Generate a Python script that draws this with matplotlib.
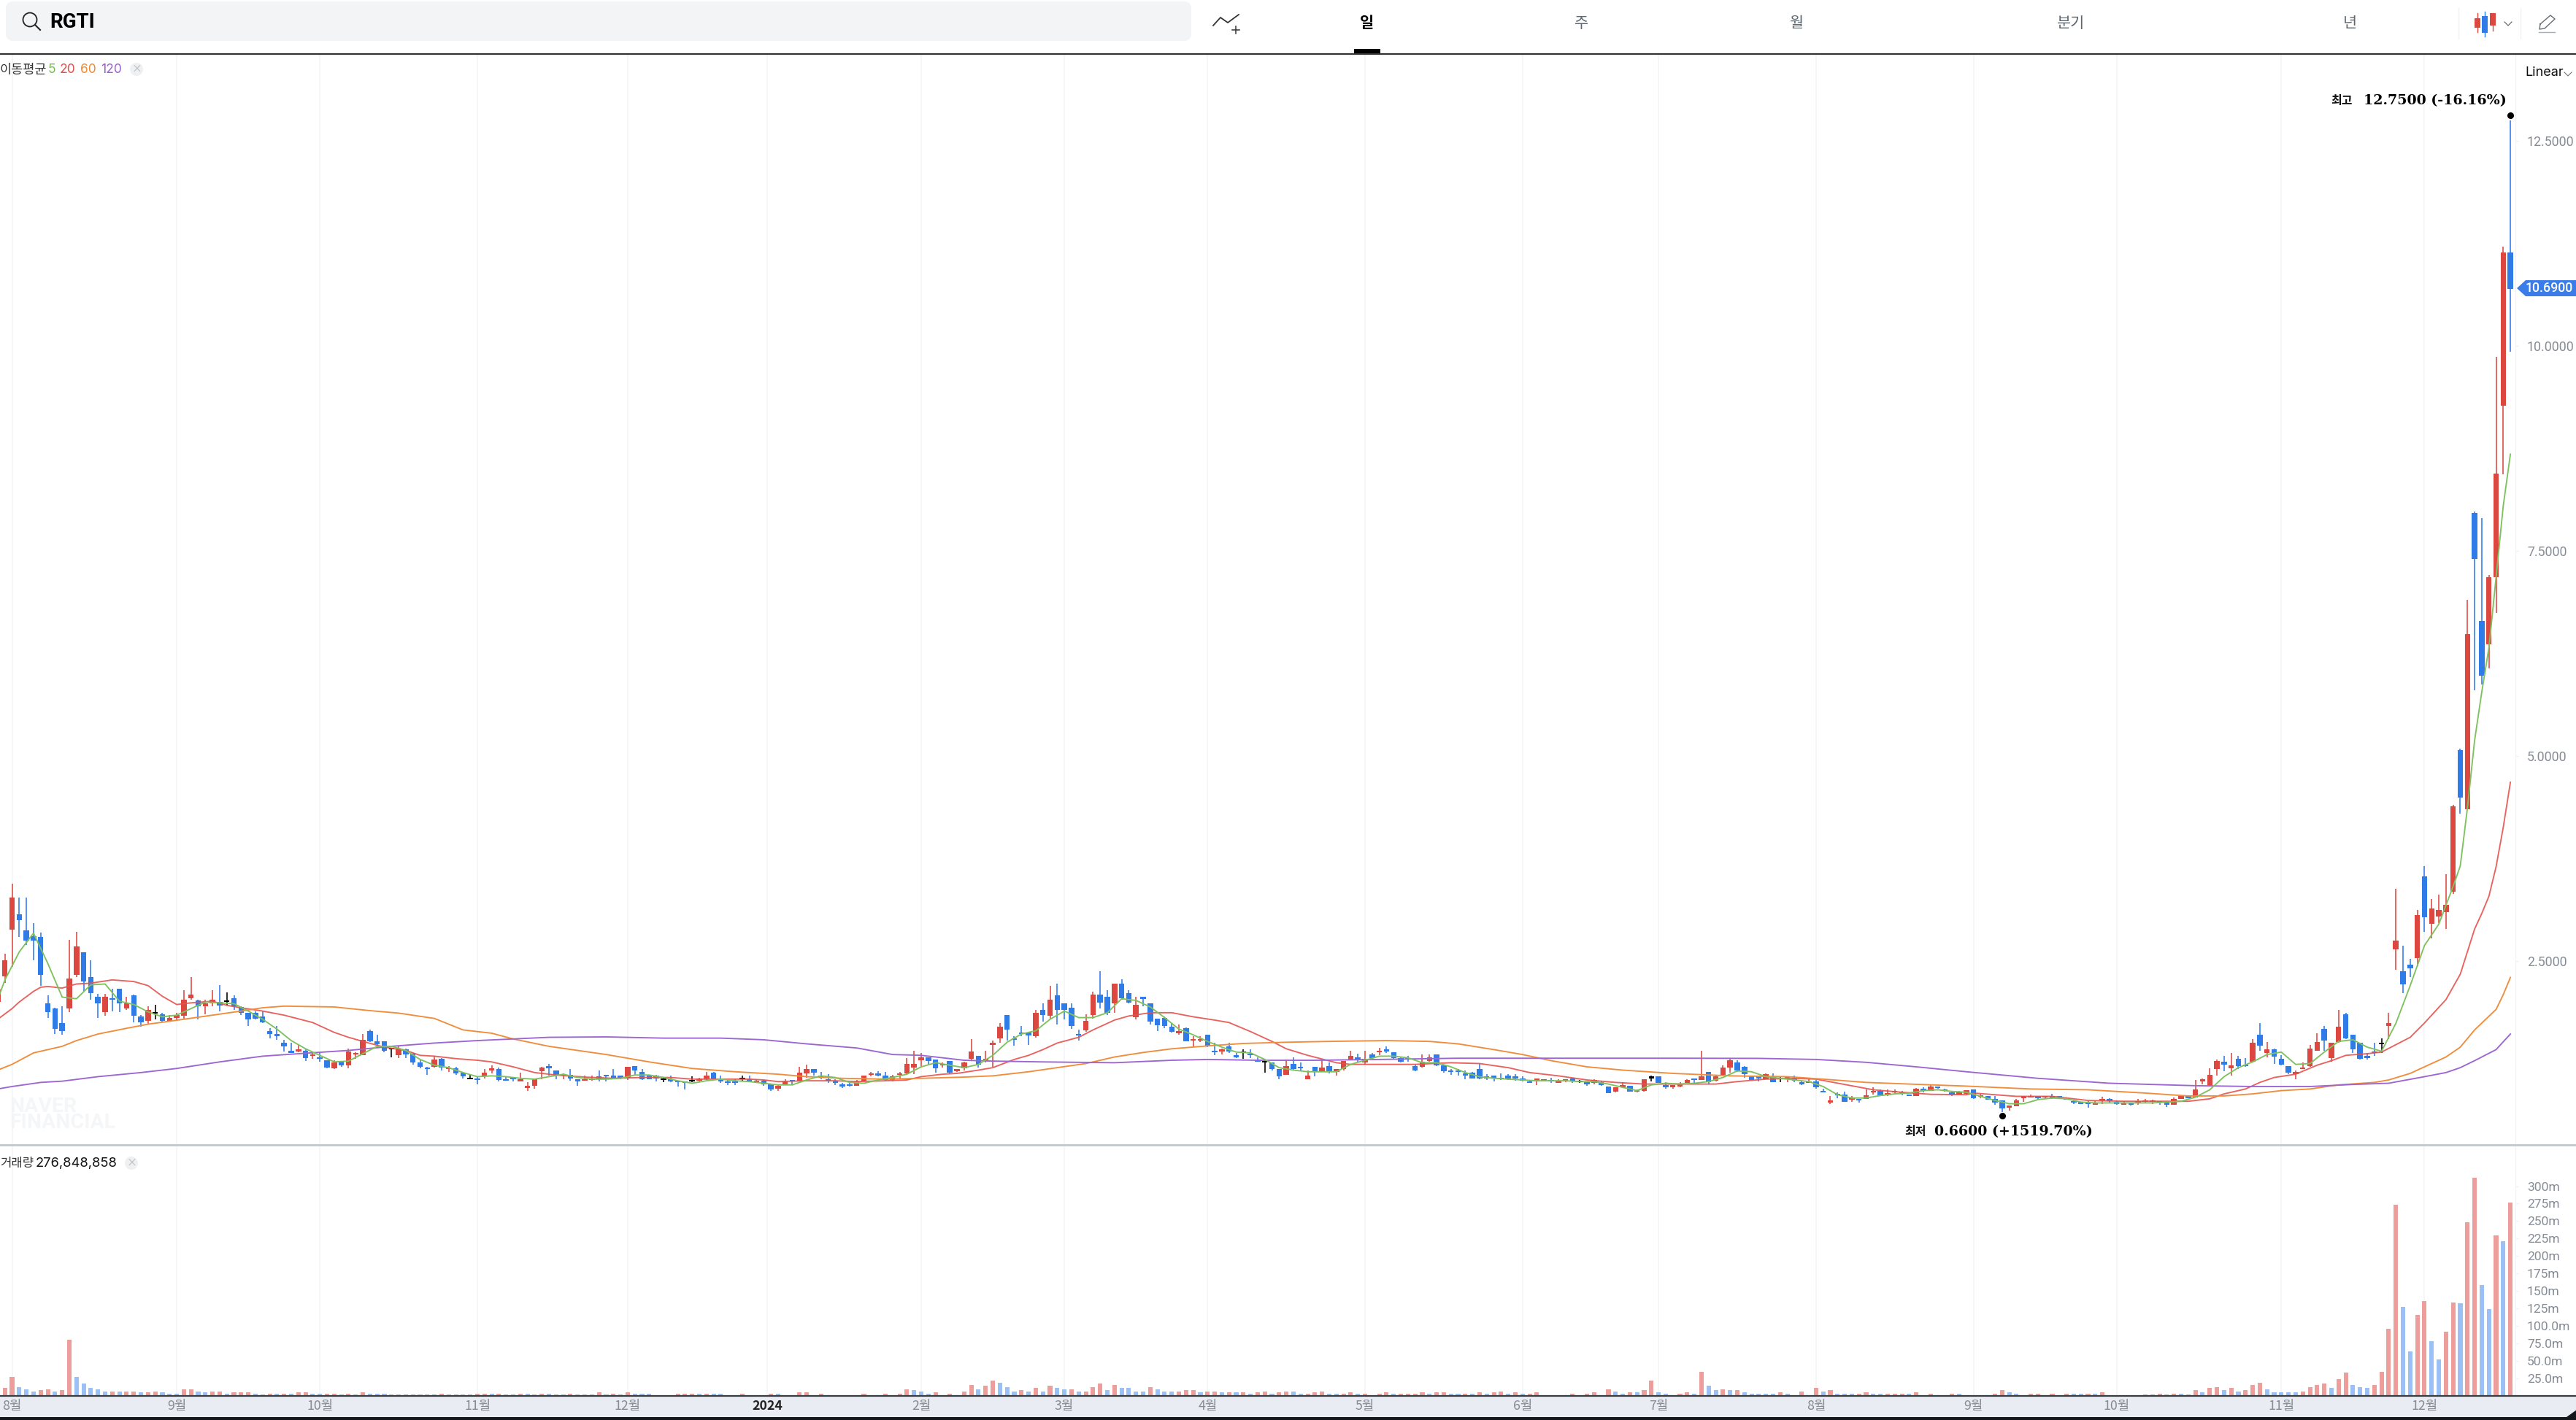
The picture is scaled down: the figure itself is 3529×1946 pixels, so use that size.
import matplotlib
matplotlib.use("Agg")
import matplotlib.pyplot as plt
from matplotlib.patches import Circle, FancyBboxPatch, Polygon, Rectangle
from matplotlib.transforms import offset_copy

KR = ["Noto Sans CJK KR", "DejaVu Sans"]
plt.rcParams["font.family"] = KR

# daily candles, index 0 is the one cut off by the left edge
opens = [2.0,2.31,2.88,3.07,2.87,2.80,2.79,1.98,1.92,1.74,
    1.92,2.33,2.61,2.30,2.06,1.88,2.05,2.16,1.92,2.08,
    1.82,1.77,1.86,1.85,1.76,1.81,1.83,2.05,2.02,1.95,
    1.98,2.0,2.0,2.05,1.94,1.87,1.87,1.82,1.65,1.61,
    1.50,1.41,1.40,1.41,1.34,1.32,1.29,1.19,1.27,1.23,
    1.36,1.35,1.65,1.52,1.52,1.42,1.35,1.42,1.37,1.26,
    1.19,1.21,1.31,1.18,1.19,1.14,1.06,1.06,1.09,1.17,
    1.18,1.05,1.07,1.03,0.95,0.98,1.16,1.22,1.17,1.10,
    1.11,1.06,1.04,1.05,1.08,1.10,1.10,1.09,1.08,1.22,
    1.15,1.10,1.10,1.05,1.06,1.03,1.02,1.03,1.04,1.07,
    1.14,1.05,1.02,1.02,1.06,1.06,1.01,1.04,1.0,0.94,
    0.99,1.04,1.03,1.13,1.18,1.09,1.06,1.02,1.0,0.99,
    0.98,1.03,1.11,1.13,1.10,1.05,1.11,1.13,1.20,1.29,
    1.33,1.30,1.23,1.28,1.16,1.19,1.31,1.34,1.29,1.48,
    1.56,1.84,1.55,1.63,1.63,1.58,1.90,1.83,2.08,1.98,
    1.93,1.61,1.655,1.84,2.09,2.06,1.98,2.22,2.11,1.815,
    2.05,1.98,1.80,1.81,1.70,1.62,1.68,1.53,1.53,1.60,
    1.40,1.40,1.46,1.34,1.38,1.36,1.30,1.26,1.26,1.18,
    1.11,1.25,1.20,1.06,1.21,1.15,1.22,1.15,1.18,1.30,
    1.33,1.26,1.36,1.39,1.42,1.39,1.32,1.31,1.22,1.21,
    1.28,1.36,1.23,1.155,1.155,1.13,1.14,1.18,1.08,1.09,
    1.07,1.10,1.075,1.07,1.02,1.03,1.04,1.04,1.01,1.04,
    1.07,1.02,1.02,1.01,1.02,0.97,0.91,0.965,0.98,0.905,
    0.92,1.07,1.09,0.99,0.965,0.97,1.01,1.06,1.05,1.15,
    1.04,1.11,1.20,1.26,1.21,1.10,1.075,1.06,1.09,1.06,
    1.065,1.07,1.025,1.01,1.03,0.90,0.77,0.865,0.875,0.81,
    0.81,0.82,0.895,0.92,0.86,0.895,0.90,0.86,0.85,0.94,
    0.915,0.955,0.935,0.90,0.87,0.885,0.93,0.845,0.85,0.82,
    0.80,0.715,0.73,0.83,0.835,0.835,0.835,0.855,0.855,0.83,
    0.795,0.765,0.765,0.75,0.80,0.80,0.785,0.75,0.755,0.775,
    0.785,0.785,0.775,0.77,0.745,0.82,0.85,0.835,1.035,0.97,
    1.18,1.275,1.195,1.305,1.22,1.275,1.605,1.38,1.42,1.305,
    1.22,1.125,1.18,1.22,1.41,1.675,1.315,1.515,1.85,1.605,
    1.50,1.34,1.38,1.485,1.705,2.64,2.38,2.46,2.54,3.53,
    2.95,3.045,3.095,3.345,5.07,4.355,7.96,6.65,6.36,7.18,
    9.27,11.14]
highs = [2.22,2.59,3.44,3.27,3.27,2.96,2.85,2.08,1.93,1.95,
    2.76,2.86,2.61,2.51,2.10,2.10,2.16,2.16,2.06,2.09,
    1.84,1.95,1.97,1.87,1.84,1.87,2.14,2.30,2.03,2.03,
    2.14,2.21,2.12,2.08,1.95,1.87,1.89,1.89,1.68,1.71,
    1.54,1.50,1.48,1.42,1.38,1.38,1.29,1.29,1.28,1.43,
    1.39,1.61,1.66,1.60,1.52,1.43,1.46,1.43,1.38,1.29,
    1.21,1.34,1.32,1.22,1.21,1.15,1.11,1.09,1.18,1.23,
    1.20,1.09,1.07,1.14,1.02,1.06,1.21,1.25,1.17,1.13,
    1.18,1.06,1.10,1.10,1.17,1.10,1.18,1.10,1.21,1.22,
    1.18,1.10,1.11,1.08,1.10,1.04,1.02,1.09,1.08,1.15,
    1.15,1.10,1.06,1.06,1.10,1.10,1.06,1.05,1.0,0.99,
    1.06,1.05,1.21,1.24,1.18,1.15,1.12,1.06,1.01,1.01,
    1.05,1.10,1.15,1.16,1.15,1.11,1.15,1.32,1.41,1.38,
    1.33,1.30,1.26,1.28,1.18,1.27,1.55,1.34,1.41,1.53,
    1.74,1.84,1.58,1.71,1.64,1.90,1.98,2.20,2.22,1.98,
    1.98,1.66,1.85,2.13,2.38,2.14,2.22,2.28,2.14,2.06,
    2.06,1.98,1.80,1.82,1.74,1.73,1.69,1.58,1.58,1.60,
    1.50,1.43,1.50,1.38,1.42,1.42,1.33,1.30,1.26,1.18,
    1.30,1.33,1.26,1.17,1.21,1.29,1.26,1.18,1.28,1.41,
    1.37,1.41,1.38,1.44,1.46,1.39,1.33,1.34,1.24,1.36,
    1.36,1.36,1.23,1.18,1.18,1.17,1.15,1.25,1.12,1.10,
    1.13,1.12,1.12,1.09,1.04,1.07,1.06,1.08,1.06,1.06,
    1.08,1.05,1.02,1.06,1.04,0.97,0.96,1.02,0.98,0.93,
    1.06,1.10,1.09,1.02,0.98,1.02,1.06,1.06,1.41,1.15,
    1.10,1.23,1.31,1.29,1.22,1.10,1.09,1.13,1.13,1.09,
    1.09,1.10,1.03,1.07,1.05,0.945,0.85,0.90,0.905,0.855,
    0.82,0.93,0.96,0.93,0.93,0.93,0.92,0.87,0.95,0.96,
    0.99,0.97,0.94,0.915,0.92,0.925,0.935,0.88,0.855,0.855,
    0.80,0.74,0.82,0.855,0.875,0.85,0.855,0.885,0.855,0.835,
    0.80,0.78,0.795,0.79,0.845,0.825,0.80,0.79,0.775,0.82,
    0.82,0.81,0.795,0.795,0.835,0.855,0.855,1.05,1.07,1.195,
    1.30,1.345,1.38,1.345,1.315,1.545,1.74,1.515,1.435,1.355,
    1.22,1.165,1.26,1.475,1.62,1.705,1.50,1.90,1.865,1.605,
    1.50,1.38,1.50,1.56,1.865,3.385,2.69,2.53,3.12,3.66,
    3.26,3.31,3.56,4.40,5.09,6.90,7.98,7.90,7.21,9.87,
    11.21,12.75]
lows = [1.93,2.23,2.43,2.79,2.70,2.51,2.20,1.81,1.61,1.60,
    1.88,2.30,2.13,2.03,1.81,1.83,1.89,1.88,1.90,1.75,
    1.70,1.73,1.79,1.76,1.76,1.78,1.79,2.03,1.79,1.85,
    1.95,1.89,1.96,1.90,1.84,1.71,1.79,1.74,1.56,1.54,
    1.40,1.38,1.39,1.28,1.31,1.27,1.19,1.18,1.21,1.19,
    1.31,1.35,1.51,1.45,1.39,1.33,1.32,1.32,1.24,1.19,
    1.11,1.20,1.17,1.15,1.11,1.07,1.06,1.0,1.07,1.13,
    1.03,1.04,1.03,1.03,0.92,0.94,1.06,1.10,1.06,1.06,
    1.04,0.98,1.04,1.04,1.03,1.03,1.06,1.06,1.05,1.10,
    1.05,1.06,1.03,1.02,1.02,0.97,0.93,1.02,1.03,1.05,
    1.06,1.01,0.99,0.99,1.03,1.03,1.01,0.98,0.92,0.92,
    0.99,0.99,1.03,1.08,1.10,1.06,1.01,0.99,0.95,0.97,
    0.98,1.03,1.09,1.09,1.04,1.03,1.06,1.11,1.12,1.20,
    1.24,1.14,1.20,1.12,1.15,1.17,1.29,1.20,1.26,1.21,
    1.50,1.53,1.47,1.58,1.48,1.57,1.76,1.79,1.73,1.79,
    1.67,1.53,1.64,1.80,1.92,1.84,1.87,2.03,1.98,1.79,
    1.95,1.73,1.65,1.68,1.63,1.60,1.52,1.45,1.51,1.45,
    1.35,1.36,1.38,1.32,1.31,1.32,1.27,1.14,1.17,1.06,
    1.11,1.17,1.17,1.06,1.09,1.15,1.13,1.10,1.17,1.30,
    1.27,1.24,1.31,1.35,1.38,1.30,1.26,1.27,1.16,1.20,
    1.27,1.22,1.14,1.115,1.10,1.06,1.07,1.06,1.05,1.03,
    1.05,1.05,1.04,1.03,1.01,0.99,1.03,1.01,1.01,1.02,
    1.01,1.01,0.98,1.0,0.98,0.89,0.90,0.96,0.91,0.90,
    0.91,1.03,1.01,0.94,0.945,0.96,1.01,1.01,1.05,0.995,
    1.03,1.10,1.14,1.15,1.08,1.05,1.03,1.055,1.025,1.025,
    1.025,1.025,0.99,1.01,0.945,0.895,0.76,0.83,0.78,0.78,
    0.77,0.82,0.875,0.85,0.85,0.885,0.865,0.85,0.85,0.90,
    0.915,0.94,0.91,0.85,0.87,0.875,0.82,0.83,0.81,0.745,
    0.66,0.68,0.73,0.78,0.835,0.81,0.825,0.82,0.83,0.81,
    0.76,0.755,0.715,0.745,0.755,0.775,0.75,0.745,0.74,0.745,
    0.765,0.76,0.75,0.725,0.745,0.82,0.825,0.835,1.0,0.97,
    1.10,1.16,1.10,1.18,1.21,1.265,1.41,1.33,1.25,1.225,
    1.125,1.06,1.18,1.21,1.41,1.41,1.275,1.50,1.55,1.38,
    1.295,1.30,1.34,1.38,1.545,2.39,2.11,2.305,2.435,2.86,
    2.78,2.96,2.89,3.32,4.30,4.355,5.80,5.87,6.07,6.74,
    8.43,9.93]
closes = [2.15,2.51,3.27,3.0,2.75,2.75,2.33,1.88,1.67,1.65,
    2.29,2.68,2.25,2.11,1.98,2.06,2.03,1.98,1.98,1.83,
    1.75,1.90,1.86,1.77,1.81,1.84,2.03,2.09,1.95,1.98,
    2.03,1.96,2.0,1.95,1.87,1.79,1.80,1.75,1.61,1.58,
    1.46,1.38,1.42,1.32,1.35,1.31,1.20,1.26,1.23,1.40,
    1.37,1.54,1.52,1.49,1.41,1.42,1.43,1.36,1.26,1.21,
    1.18,1.30,1.20,1.19,1.13,1.09,1.06,1.05,1.14,1.18,
    1.05,1.04,1.06,1.06,0.98,1.06,1.20,1.19,1.10,1.12,
    1.07,1.03,1.06,1.07,1.07,1.09,1.06,1.08,1.21,1.17,
    1.06,1.06,1.07,1.05,1.03,1.02,1.01,1.03,1.07,1.10,
    1.06,1.03,1.01,1.01,1.06,1.03,1.04,1.0,0.93,0.98,
    1.03,1.03,1.14,1.18,1.14,1.08,1.03,1.01,0.97,0.98,
    1.03,1.10,1.12,1.10,1.05,1.09,1.12,1.25,1.25,1.33,
    1.28,1.19,1.25,1.14,1.17,1.26,1.40,1.24,1.30,1.50,
    1.70,1.66,1.54,1.61,1.59,1.87,1.84,2.03,1.90,1.90,
    1.71,1.59,1.77,2.09,1.99,1.87,2.22,2.05,1.99,1.97,
    2.04,1.76,1.72,1.71,1.64,1.65,1.52,1.54,1.54,1.47,
    1.39,1.41,1.40,1.33,1.38,1.35,1.27,1.26,1.18,1.09,
    1.22,1.18,1.19,1.10,1.15,1.20,1.15,1.18,1.28,1.34,
    1.30,1.31,1.32,1.41,1.40,1.32,1.27,1.30,1.17,1.27,
    1.33,1.23,1.16,1.15,1.15,1.10,1.07,1.07,1.07,1.08,
    1.06,1.07,1.07,1.04,1.015,1.07,1.06,1.03,1.04,1.05,
    1.03,1.02,1.0,1.05,0.99,0.89,0.96,0.97,0.91,0.92,
    1.06,1.07,1.01,0.96,0.97,1.0,1.05,1.05,1.09,1.02,
    1.09,1.20,1.29,1.17,1.12,1.05,1.07,1.12,1.025,1.06,
    1.07,1.04,0.995,1.03,0.96,0.895,0.805,0.86,0.78,0.835,
    0.80,0.86,0.90,0.85,0.89,0.90,0.88,0.855,0.94,0.915,
    0.97,0.95,0.915,0.865,0.895,0.925,0.83,0.85,0.81,0.77,
    0.70,0.74,0.80,0.835,0.855,0.83,0.85,0.83,0.835,0.81,
    0.77,0.76,0.76,0.77,0.82,0.795,0.755,0.76,0.75,0.78,
    0.79,0.79,0.77,0.75,0.82,0.85,0.83,0.93,1.04,1.115,
    1.285,1.235,1.225,1.215,1.215,1.50,1.47,1.42,1.335,1.235,
    1.135,1.13,1.205,1.435,1.515,1.53,1.50,1.70,1.56,1.425,
    1.305,1.315,1.375,1.485,1.74,2.75,2.215,2.41,3.065,3.03,
    3.145,3.12,3.185,4.385,4.49,6.49,7.40,5.98,7.18,8.445,
    11.14,10.69]

# volume in millions
volumes = [3,11,26.5,12.5,9,6,8,9,6,8,
    80,26.5,17,11,9,6,6,6,6,6,
    5,5,6,5,3,3,9,9,6,5,
    6,6,3,5,5,5,3,2,3,3,
    3,3,5,5,3,3,3,3,2,3,
    2,5,3,3,3,2,2,2,2,2,
    2,2,3,1.5,1.5,1.5,1.5,3,3,3,
    3,1.5,1.5,3,3,1.5,3,3,1.5,1.5,
    3,1.5,1.5,1.5,5,1.5,3,1.5,5,3,
    2.4,2.4,1,1,1,2.4,2.4,2.4,2.4,2.4,
    2.4,2.4,1,1,2.4,1,1,1,2.4,2.4,
    1,1,4.2,4.2,1,2.4,1,1,1,1,
    1,2.4,1,1,2.4,1,2.4,9.1,7.7,5.9,
    2.4,4.2,1,2.4,1,5.9,15.3,9.1,13.9,21.6,
    18.5,12.2,5.9,7.7,5.9,10.8,5.9,13.9,10.8,9.1,
    9.1,5.9,5.9,12.2,17.1,7.7,15.3,10.8,10.8,5.9,
    5.9,12.2,9.1,5.9,5.9,5.9,7.7,7.7,4.2,5.9,
    5.9,4.2,4.2,4.2,4.2,2.4,4.2,5.9,2.4,4.2,
    5.9,5.9,2.4,2.4,4.2,5.9,2.4,2.4,2.4,4.2,
    2.4,2.4,1,2.4,4.2,2.4,2.4,2.4,2.4,4.2,
    2.4,4.2,4.2,2.4,2.4,2.4,2.4,4.2,2.4,4.2,
    5.9,2.4,4.2,2.4,2.4,4.2,1,1,1,1,
    2.4,1,2.4,4.2,1,9.1,5.9,2.4,4.2,4.2,
    7.7,21.6,4.2,2.4,1,2.4,4.2,2.4,34.2,13.9,
    7.7,9.1,7.7,7.7,4.2,2.4,2.4,2.4,2.4,4.2,
    2.4,1,5.9,1,10.8,5.9,7.7,2.4,2.4,2.4,
    2.4,4.2,2.4,2.4,2.4,2.4,2.4,2.4,4.2,1,
    2.4,1,1,2.4,2.4,1,1,1,1,2.4,
    7.7,4.2,2.4,1,2.4,2.4,1,2.4,1,2.4,
    2.4,2.4,2.4,2.4,4.2,1,1,1,1,1,
    1.5,1.5,3,2,3,3,2,8,5,11,
    12.5,8,11,6,8,15,18.5,9,5,5,
    5,5,6,12.5,15,17,11,24,33,15,
    12.5,11,15,34,96,273,127,63,116,135,
    78,52,91,133,132,248,312,158,124,229,
    221,276]
volume_dir = ("RRRBBBRRBR" "RBBBBBRBRR" "BRRBBBRRBB" "RRBRRRBBRB" "RBRRBBRRBR" "BRBBBBBRRB"
    "RRRBBBBRRB" "RBRRBBRBBB" "RBBBRBRBRB" "BBBRRRRRBR" "BBBBRBBRRB" "BBRRBRBBBB"
    "RRBBRBRRBB" "BRBRBRRBRR" "BBBRBRBRBB" "RBRRRBRBBB" "BRBBBRRRBR" "RBRBRBRRBR"
    "RBBRRRBBRR" "BRBRRBRRRR" "BRRBBRBRBR" "RBRBRRBRRB" "RBRRBRBBRB" "RRBBBRRBRB"
    "BRBRBBBBBR" "BBRBRBRBBB" "RRBBRRRBRB" "RBRRBBBBRR" "RBBBRRBRBR" "BBRBRBBBBR"
    "BRRBRBBRBR" "RBRBRRRBBB" "BBRRRRBRRB" "BBRRRRBBRR" "BBRRBRRBBR" "BR")

# moving averages at the listed candle indexes
ma5_k = [0] + list(range(1, 343, 2)) + [343, 344, 345, 346, 347, 348, 349, 350, 351]
ma5_v = [2.03,2.27,2.61,2.84,2.47,2.06,2.04,2.21,2.22,2.01,1.97,1.88,1.82,1.84,1.92,2.0,1.99,1.98,1.89,1.79,
    1.67,1.53,1.43,1.35,1.27,1.28,1.37,1.46,1.46,1.41,1.30,1.23,1.20,1.14,1.09,1.10,1.09,
    1.07,1.06,1.09,1.12,1.08,1.06,1.06,1.07,1.11,1.11,1.08,1.04,1.01,1.04,1.06,1.04,1.03,1.01,0.99,0.99,
    1.05,1.10,1.08,1.02,1.01,1.05,1.08,1.12,1.21,1.26,1.23,1.20,1.24,1.35,1.51,
    1.61,1.65,1.79,1.89,1.81,1.81,1.87,2.04,2.02,1.94,1.81,1.67,1.60,1.52,1.45,1.39,1.38,1.30,1.20,1.17,
    1.15,1.15,1.15,1.24,1.29,1.34,1.34,1.32,1.26,
    1.26,1.21,1.14,1.09,1.07,1.06,1.05,1.04,1.04,1.04,1.03,1.03,1.0,0.96,0.92,0.99,1.01,1.0,1.01,1.03,
    1.08,1.16,1.15,1.09,1.07,1.05,1.03,0.97,0.87,0.83,0.83,0.86,0.88,0.89,0.92,0.93,0.91,0.90,
    0.85,0.80,0.76,0.76,0.81,0.83,0.82,0.78,0.77,0.77,0.77,0.77,0.77,0.78,0.79,0.84,0.93,1.09,1.20,1.27,
    1.36,1.39,1.24,1.25,1.39,1.52,1.54,1.45,1.40,1.74,2.20,2.69,2.95,
    3.41,3.66,4.37,5.19,5.78,6.32,7.18,8.05,8.68]
ma20_k = [0,2,3,5,6,7,9,11,13,16,19,21,23,25,27,30,32,34,37,40,44,47,49,51,54,57,59,61,64,67,69,72,
    75,78,82,86,90,94,97,101,105,107,109,113,117,120,124,127,129,132,134,137,139,142,
    144,146,148,151,153,156,158,161,164,167,170,172,175,178,180,183,187,189,192,195,198,
    203,207,211,214,218,222,226,230,234,240,243,247,251,254,258,262,266,270,275,
    276,282,287,292,297,302,306,309,311,314,316,318,321,324,326,328,331,333,335,337,339,342,344,346,347,348,349,350,351]
ma20_v = [1.79,1.92,2.0,2.13,2.18,2.19,2.17,2.22,2.23,2.27,2.25,2.20,2.07,1.97,1.99,2.01,1.96,1.93,1.89,1.84,
    1.75,1.63,1.57,1.52,1.45,1.41,1.35,1.34,1.31,1.29,1.27,1.21,
    1.14,1.11,1.085,1.07,1.08,1.08,1.06,1.06,1.06,1.05,1.03,1.04,1.04,1.03,1.04,1.05,1.09,1.12,1.13,1.17,1.20,1.30,
    1.35,1.42,1.50,1.57,1.66,1.78,1.83,1.87,1.87,1.82,1.78,1.75,1.64,1.52,1.43,1.35,1.26,1.24,1.24,1.24,1.24,
    1.26,1.25,1.20,1.14,1.10,1.05,1.02,1.0,1.0,1.0,1.03,1.06,1.07,1.06,0.995,0.93,0.90,0.875,0.87,
    0.89,0.85,0.85,0.80,0.79,0.79,0.79,0.82,0.88,0.94,1.02,1.08,1.12,1.23,1.285,1.35,1.37,1.39,1.48,1.57,1.745,2.03,
    2.34,2.89,3.08,3.29,3.65,4.13,4.68]
ma60_k = [0,2,5,9,11,14,18,21,26,30,34,37,40,47,52,56,61,65,69,72,
    77,85,91,97,103,109,113,118,124,129,135,139,144,148,152,156,160,164,169,174,180,186,194,
    200,204,209,213,217,222,227,234,242,250,255,261,267,275,
    284,292,300,306,311,315,319,323,327,332,334,337,342,344,346,349,350,351]
ma60_v = [1.17,1.24,1.38,1.46,1.53,1.61,1.68,1.73,1.79,1.84,1.89,1.93,1.95,1.94,1.895,1.865,1.80,1.66,1.62,1.55,
    1.46,1.36,1.27,1.19,1.15,1.12,1.09,1.07,1.06,1.07,1.085,1.10,1.15,1.20,1.25,1.33,1.385,1.43,1.465,1.495,1.51,1.52,1.53,
    1.52,1.49,1.42,1.36,1.285,1.21,1.17,1.13,1.10,1.09,1.06,1.02,1.0,0.975,
    0.94,0.93,0.89,0.855,0.855,0.88,0.92,0.94,0.99,1.02,1.05,1.13,1.33,1.45,1.66,1.91,2.09,2.30]
ma120_k = [0,2,6,9,14,20,25,31,37,43,49,55,61,67,72,77,85,93,101,107,113,120,125,129,135,139,146,156,164,169,176,184,193,
    204,217,234,246,254,261,268,275,285,295,307,315,323,329,334,339,342,344,346,349,351]
ma120_v = [0.94,0.97,1.02,1.035,1.09,1.14,1.19,1.27,1.34,1.376,1.41,1.46,1.50,1.53,1.55,1.57,1.575,1.56,1.56,1.54,1.49,1.44,1.36,1.35,1.29,1.28,1.27,1.26,1.29,1.30,1.29,1.29,1.30,
    1.315,1.315,1.315,1.313,1.30,1.265,1.21,1.15,1.07,1.01,0.98,0.97,0.97,0.995,1.01,1.09,1.14,1.20,1.285,1.42,1.61]

price_ticks = [2.5, 5.0, 7.5, 10.0, 12.5]
volume_ticks = [25, 50, 75, 100, 125, 150, 175, 200, 225, 250, 275, 300]
month_k = [2, 25, 45, 67, 88, 107.5, 129, 149, 169, 191, 213, 232, 254, 276, 296, 319, 339]
month_labels = ["8월", "9월", "10월", "11월", "12월", "2024", "2월", "3월", "4월", "5월", "6월",
    "7월", "8월", "9월", "10월", "11월", "12월"]

RED = "#dc4840"
BLUE = "#2f7be8"
GRID = "#f3f4f6"
AXIS_TEXT = "#858c95"
W, H = 3530, 1946


def px_axes(left, top, right, bottom, **kw):
    return fig.add_axes([left / W, 1 - bottom / H, (right - left) / W, (bottom - top) / H], **kw)


fig = plt.figure(figsize=(W / 100, H / 100), dpi=100, facecolor="white")

bg = px_axes(0, 0, W, H, zorder=0)
ax = px_axes(0, 75, 3446, 1568, zorder=2, facecolor="none")
vol = px_axes(0, 1571, 3446, 1912.5, zorder=2, facecolor="none")
ui = px_axes(0, 0, W, H, zorder=5, facecolor="none")
for a in (bg, ui):
    a.set_xlim(0, W)
    a.set_ylim(H, 0)
    a.axis("off")

# candles
k_all = list(range(len(closes)))
colors = [RED if c > o else BLUE if c < o else "black" for o, c in zip(opens, closes)]
ax.vlines(k_all, lows, highs, colors=colors, linewidth=1.15, zorder=2)
bottoms = [min(o, c) for o, c in zip(opens, closes)]
heights = [max(abs(c - o), 0.02) for o, c in zip(opens, closes)]
ax.bar(k_all, heights, 0.76, bottoms, color=colors, linewidth=0, zorder=2)

ax.plot(ma5_k, ma5_v, color="#7fc15f", lw=1.35, zorder=4)
ax.plot(ma20_k, ma20_v, color="#e5524e", lw=1.35, alpha=0.9, zorder=3)
ax.plot(ma60_k, ma60_v, color="#f08d3c", lw=1.35, zorder=3)
ax.plot(ma120_k, ma120_v, color="#9c66d2", lw=1.35, zorder=3)

ax.set_xlim(0.316, 351.7)
ax.set_ylim(0.267, 13.55)
ax.set_xticks(month_k)
ax.set_yticks(price_ticks)
ax.set_yticklabels([f"{v:.4f}" for v in price_ticks], fontfamily=["Roboto"], fontsize=12.8, color=AXIS_TEXT)
ax.yaxis.tick_right()
ax.tick_params(axis="x", length=0, labelbottom=False)
ax.tick_params(axis="y", length=3, color="#eceef0", pad=8.5)
ax.grid(axis="x", color=GRID, lw=1.1, zorder=0)
ax.set_axisbelow(True)
for name, sp in ax.spines.items():
    sp.set_visible(name == "right")
    sp.set_color("#f0f1f3")

# high and low marks sit a few pixels away from the wick ends
top_idx = highs.index(max(highs))
low_idx = lows.index(min(lows))
ax.plot(top_idx, highs[top_idx], "o", color="black", ms=5.5, zorder=6,
    transform=offset_copy(ax.transData, fig=fig, y=7, units="dots"))
ax.plot(low_idx, lows[low_idx], "o", color="black", ms=5.5, zorder=6,
    transform=offset_copy(ax.transData, fig=fig, y=-5, units="dots"))

# volume
vol_colors = ["#ee9e9a" if d == "R" else "#9bc0f6" for d in volume_dir]
vol.bar(k_all, volumes, 0.62, color=vol_colors, linewidth=0, zorder=2)
vol.set_xlim(0.316, 351.7)
vol.set_ylim(0, 357)
vol.set_xticks(month_k)
vol.set_xticklabels(month_labels, fontsize=12.8, color=AXIS_TEXT)
vol.set_yticks(volume_ticks)
vol.set_yticklabels([f"{v}m" if v > 100 else f"{v:.1f}m" for v in volume_ticks],
    fontfamily=["Roboto"], fontsize=12.6, color=AXIS_TEXT)
vol.yaxis.tick_right()
vol.tick_params(axis="x", length=0, pad=4)
vol.tick_params(axis="y", length=3, color="#eceef0", pad=8.5)
vol.grid(axis="x", color=GRID, lw=1.1, zorder=0)
vol.set_axisbelow(True)
for name, sp in vol.spines.items():
    sp.set_visible(name == "right")
    sp.set_color("#f0f1f3")
for lab in vol.get_xticklabels():
    if lab.get_text() == "2024":
        lab.set_color("#222222")
        lab.set_fontweight("bold")

# page furniture
bg.add_patch(Rectangle((0, 1914), W, 28, color="#e9ecf2", lw=0))
bg.add_patch(Rectangle((0, 1942), W, 4, color="#14171b", lw=0))
bg.add_patch(Polygon([(3516, 1942), (W, 1942), (W, 1932)], color="#14171b", lw=0))
bg.add_patch(FancyBboxPatch((8, 2), 1624, 54, boxstyle="round,pad=0,rounding_size=10", color="#f3f4f6", lw=0))
bg.text(13, 1517, "NAVER", fontfamily=["Roboto"], fontweight="bold", fontsize=20.5, color="#f5f6f8", va="center")
bg.text(13, 1539, "FINANCIAL", fontfamily=["Roboto"], fontweight="bold", fontsize=20.5, color="#f5f6f8", va="center")

ui.plot([0, W], [73.5, 73.5], color="#333333", lw=1.6)
ui.plot([0, W], [1569, 1569], color="#c4c9cd", lw=2.1)
ui.plot([0, W], [1913, 1913], color="#3a3d40", lw=1.6)

ui.add_patch(Circle((41, 27), 9.5, fill=False, ec="#222222", lw=1.3))
ui.plot([48, 55], [34, 41], color="#222222", lw=1.5)
ui.text(68, 30, "RGTI", fontfamily=["Roboto"], fontweight="bold", fontsize=20, color="black", va="center")

ui.plot([1662, 1672, 1682, 1697], [35, 24, 31, 20], color="#333333", lw=1.3)
ui.plot([1688, 1698], [41, 41], color="#333333", lw=1.1)
ui.plot([1693, 1693], [36, 46], color="#333333", lw=1.1)

tabs_x = [1872, 2167, 2461, 2837, 3219]
tabs = ["일", "주", "월", "분기", "년"]
for i, (tx, t) in enumerate(zip(tabs_x, tabs)):
    ui.text(tx, 32, t, ha="center", va="center", fontsize=15, fontweight="bold" if i == 0 else "normal",
        color="black" if i == 0 else "#5f6770")
ui.add_patch(Rectangle((1855, 67), 36, 6, color="black", lw=0))

# candle picker and pencil
for dx in (3368, 3453):
    ui.plot([dx, dx], [11, 53], color="#f1f2f4", lw=1)
for cx, y0, y1, b0, b1, c in [(3394, 18, 44, 25, 38, RED), (3404, 16, 50, 22, 45, BLUE), (3415, 18, 42, 18, 35, RED)]:
    ui.plot([cx, cx], [y0, y1], color=c, lw=1)
    ui.add_patch(Rectangle((cx - 4, b0), 8, b1 - b0, color=c, lw=0))
ui.plot([3431, 3436, 3441], [30, 35, 30], color="#555b62", lw=0.8)
ui.plot([3480, 3494, 3500, 3486, 3479, 3480], [33, 21, 26, 39, 40, 33], color="#666c74", lw=1)
ui.plot([3478, 3500], [43.5, 43.5], color="#a8adb3", lw=1)

# legend row
legend_x = [0, 66, 82, 110, 138]
legend_t = ["이동평균", "5", "20", "60", "120"]
legend_c = ["#333333", "#77bd55", "#e2504d", "#ef8a33", "#9a62d0"]
legend_f = [KR, ["Inter"], ["Inter"], ["Inter"], ["Inter"]]
for lx, t, c, f in zip(legend_x, legend_t, legend_c, legend_f):
    ui.text(lx, 96, t, fontsize=12.6, color=c, va="center", fontfamily=f)
ui.add_patch(Circle((187, 95), 9, color="#eff0f2", lw=0))
ui.text(187, 95, "×", fontsize=10, color="#b5b9bd", ha="center", va="center")

ui.text(0, 1594, "거래량", fontsize=12, color="#333333", va="center")
ui.text(49, 1594, "276,848,858", fontfamily=["Inter"], fontsize=13.2, color="#111111", va="center")
ui.add_patch(Circle((180, 1594), 9, color="#eff0f2", lw=0))
ui.text(180, 1594, "×", fontsize=10, color="#b5b9bd", ha="center", va="center")

ui.text(3459, 100, "Linear", fontfamily=["Inter"], fontsize=13, color="#111111", va="center")
ui.plot([3513, 3518, 3523], [99, 104, 99], color="#777777", lw=0.8)

# high / low notes
ui.text(3193, 138, "최고", fontsize=11.5, fontweight="bold", color="#111111", va="center")
ui.text(3434, 138, "12.7500 (-16.16%)", fontfamily=["DejaVu Serif"], fontweight="bold", fontsize=13.7,
    color="black", va="center", ha="right")
ui.text(2609, 1551, "최저", fontsize=11.5, fontweight="bold", color="#111111", va="center")
ui.text(2867, 1551, "0.6600 (+1519.70%)", fontfamily=["DejaVu Serif"], fontweight="bold", fontsize=13.7,
    color="black", va="center", ha="right")

# last price tag
ui.add_patch(Polygon([(3448, 395), (3460, 384), (W, 384), (W, 406), (3460, 406)], color="#3a7de8", lw=0))
ui.text(3525, 395, f"{closes[-1]:.4f}", fontfamily=["Roboto"], fontsize=12.8, color="white", va="center", ha="right",
    fontweight="medium")

fig.savefig("out.png", dpi=100)
